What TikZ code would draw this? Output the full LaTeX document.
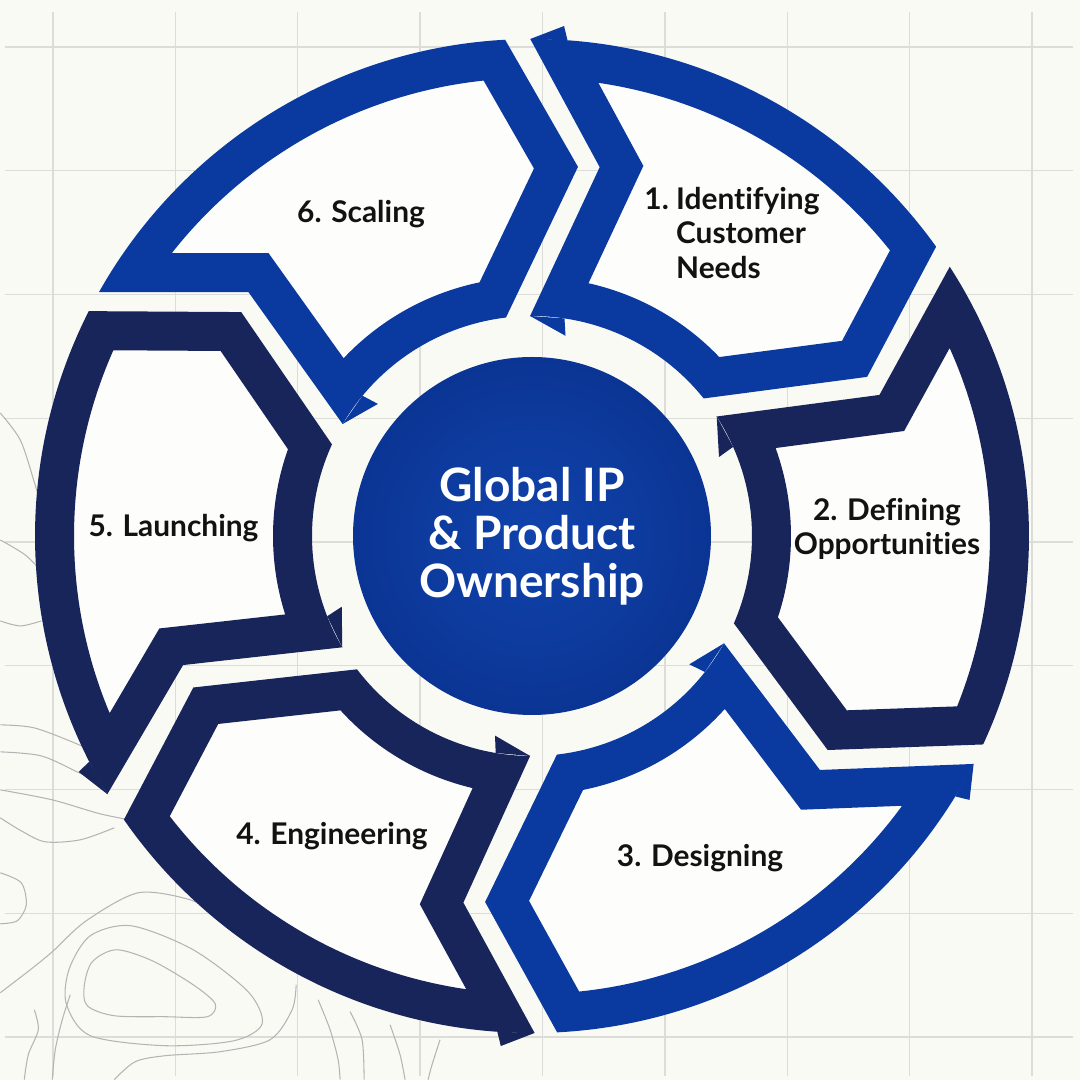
\documentclass[tikz,border=0pt]{standalone}
\usepackage{fontspec}
\setmainfont{Lato}[Ligatures={NoCommon}]
\definecolor{bgcol}{HTML}{FAFAF5}
\definecolor{gridcol}{HTML}{DCDCD8}
\definecolor{topocol}{HTML}{B4B4B4}
\definecolor{segwhite}{HTML}{FDFDFB}
\definecolor{ringblue}{HTML}{0A399F}
\definecolor{ringnavy}{HTML}{18255B}
\definecolor{hubin}{HTML}{1043AC}
\definecolor{hubout}{HTML}{0B3594}

\newcommand{\Rout}{4.97}
\newcommand{\Rin}{2.20}
% #1,#2 trailing corners, #3:#4 notch, #5,#6 leading corners, #7:#8 tip, #9 colour
\newcommand{\ringseg}[9]{%
  \begin{scope}
    \clip (#1:\Rout) arc[start angle=#1, end angle=#5, radius=\Rout] -- (#7:#8)
      -- (#6:\Rin) arc[start angle=#6, end angle=#2, radius=\Rin] -- (#3:#4) -- cycle;
    \fill[segwhite] (-5.2,-5.2) rectangle (5.2,5.2);
    \draw[line width=0.78cm, color=#9] (#1:\Rout) arc[start angle=#1, end angle=#5, radius=\Rout] -- (#7:#8)
      -- (#6:\Rin) arc[start angle=#6, end angle=#2, radius=\Rin] -- (#3:#4) -- cycle;
  \end{scope}
  \fill[#9] (#2:\Rin) -- ({#2-10}:2.03) -- ({#2-9}:\Rin) -- cycle;}
\newcommand{\outbarb}[2]{\fill[#2] (#1:\Rout) -- ({#1-3.8}:5.11) -- ({#1-4.3}:\Rout) -- cycle;}

\begin{document}
\begin{tikzpicture}[
    stage/.style={font=\bfseries\fontsize{8.5}{9.7}\selectfont, text=black!93, inner sep=0pt, align=center},
    hub/.style={circle, minimum size=3.58cm, inner sep=0pt, inner color=hubin, outer color=hubout,
      text=white, align=center, font=\bfseries\fontsize{13.1}{13.7}\selectfont},
    topo/.style={color=topocol, line width=0.3pt}
  ]
  \useasboundingbox (-5.32,-5.44) rectangle (5.48,5.36);
  \fill[bgcol] (-5.32,-5.44) rectangle (5.48,5.36);
  \begin{scope}[shift={(-4.79,-5.01)}]
    \draw[color=gridcol, line width=0.4pt, xstep=1.2238, ystep=1.2375] (-0.48,-0.39) grid (10.2,10.25);
  \end{scope}
  % contour lines in the lower left, in pixel units
  \begin{scope}[x=0.01cm, y=-0.01cm, shift={(-532,-536)}]
    \draw[topo] plot[smooth cycle] coordinates {(84,986) (92,962) (116,950) (152,961) (193,985) (215,1004) (207,1017) (165,1017) (114,1016) (87,1006)};
    \draw[topo] plot[smooth cycle] coordinates {(69,969) (90,936) (131,926) (193,950) (248,992) (262,1024) (234,1041) (165,1046) (90,1036) (66,1004)};
    \draw[topo] plot[smooth] coordinates {(0,993) (30,970) (52,952) (86,921) (138,893) (190,900) (215,915)};
    \draw[topo] plot[smooth] coordinates {(114,1080) (135,1062) (165,1056) (220,1052) (270,1040) (292,1010) (296,985)};
    \draw[topo] plot[smooth] coordinates {(24,1080) (28,1055) (38,1030) (34,1010)};
    \draw[topo] plot[smooth] coordinates {(52,1080) (55,1050) (62,1020) (70,995)};
    \draw[topo] plot[smooth] coordinates {(318,1000) (330,1030) (338,1060) (340,1080)};
    \draw[topo] plot[smooth] coordinates {(350,1012) (362,1040) (364,1080)};
    \draw[topo] plot[smooth] coordinates {(390,1025) (400,1055) (405,1080)};
    \draw[topo] plot[smooth] coordinates {(440,1040) (432,1065) (428,1080)};
    \draw[topo] plot[smooth] coordinates {(0,621) (20,626) (41,621)};
    \draw[topo] plot[smooth] coordinates {(0,725) (34,728) (79,745) (110,760)};
    \draw[topo] plot[smooth] coordinates {(0,752) (41,756) (79,773) (105,785)};
    \draw[topo] plot[smooth] coordinates {(0,790) (52,800) (100,814) (140,822)};
    \draw[topo] plot[smooth] coordinates {(0,818) (21,831) (45,842) (80,840) (114,828)};
    \draw[topo] plot[smooth] coordinates {(0,873) (21,883) (26,905) (17,921) (0,924)};
    \draw[topo] plot[smooth] coordinates {(0,413) (20,440) (34,482) (45,520)};
    \draw[topo] plot[smooth] coordinates {(0,540) (25,555) (45,575)};
  \end{scope}
  % ring segments, clockwise from the top
  \ringseg{90.2}{90.5}{79.6}{3.75}{35.6}{38.7}{25.4}{3.71}{ringblue}
  \ringseg{32.8}{32.9}{22.1}{3.75}{-24.8}{-23.4}{-35.9}{3.65}{ringnavy}
  \ringseg{-27.3}{-29.2}{-39.1}{3.71}{-87.1}{-83.5}{-97.3}{3.69}{ringblue}
  \ringseg{-89.7}{-90.5}{-100.6}{3.73}{-145.2}{-142.7}{-155.9}{3.71}{ringnavy}
  \ringseg{-148.7}{-149.6}{-159.7}{3.72}{-206.9}{-204.6}{-217.6}{3.67}{ringnavy}
  \ringseg{150.6}{149.4}{139.3}{3.74}{93.1}{96.8}{82.9}{3.72}{ringblue}
  \outbarb{90.2}{ringblue}
  \outbarb{-27.3}{ringblue}
  \outbarb{-89.7}{ringnavy}
  \outbarb{-148.7}{ringnavy}
  \node[hub] (hub) at (0,0) {Global IP\\\& Product\\Ownership};
  \node[stage, align=left] (s1) at (2.00,3.03) {1.~Identifying\\\hphantom{1.~}Customer\\\hphantom{1.~}Needs};
  \node[stage] (s2) at (3.55,0.07) {2. Defining\\Opportunities};
  \node[stage] (s3) at (1.68,-3.22) {3. Designing};
  \node[stage] (s4) at (-2.00,-3.00) {4. Engineering};
  \node[stage] (s5) at (-3.585,0.08) {5. Launching};
  \node[stage] (s6) at (-1.71,3.216) {6. Scaling};
\end{tikzpicture}
\end{document}
